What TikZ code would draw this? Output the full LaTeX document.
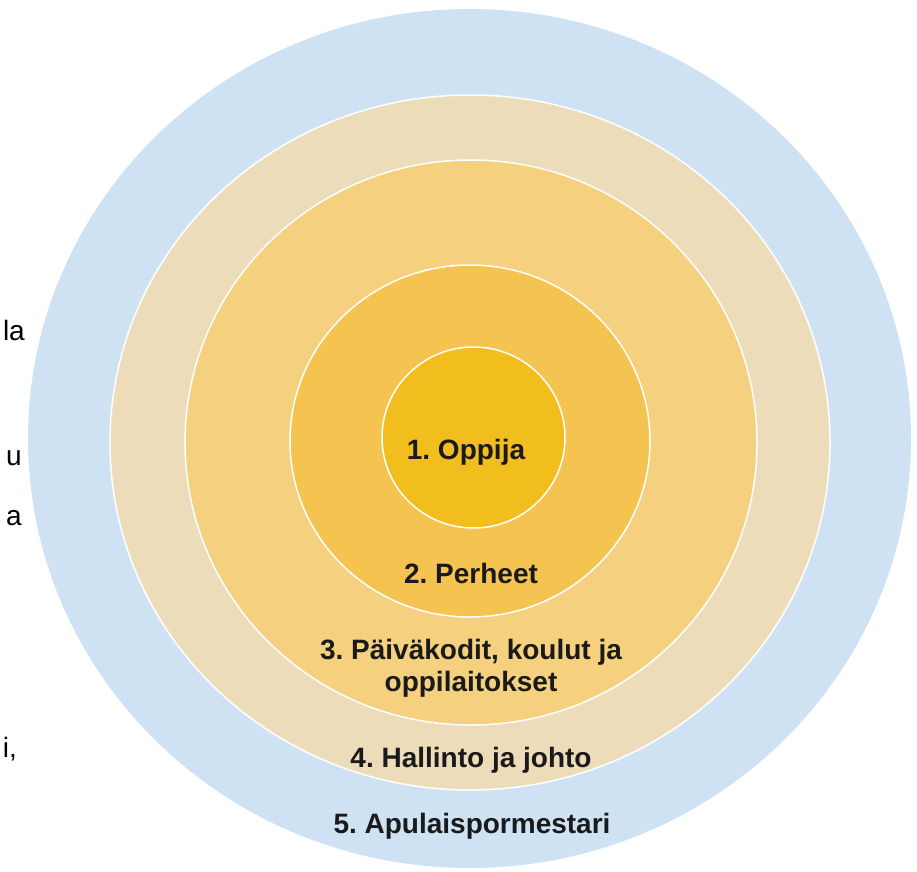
\documentclass[tikz,border=0pt]{standalone}
\usepackage{fontspec}
\setmainfont{Liberation Sans}
\usetikzlibrary{positioning}
\definecolor{ringA}{RGB}{242,190,30}
\definecolor{ringB}{RGB}{245,196,80}
\definecolor{ringC}{RGB}{245,208,126}
\definecolor{ringD}{RGB}{236,220,185}
\definecolor{ringE}{RGB}{207,226,243}
\definecolor{inkText}{RGB}{26,26,26}
\newcommand{\ringfont}{\fontsize{28}{32}\selectfont\bfseries}
\frenchspacing

\begin{document}
\begin{tikzpicture}[x=1pt,y=-1pt,
    ringlabel/.style={inkText, font=\ringfont, inner sep=0pt, align=center},
    cutword/.style={black, font=\fontsize{28}{32}\selectfont, inner sep=0pt, anchor=base east},
    ringline/.style={draw=white, line width=1.5pt}]
      \useasboundingbox (0,0) rectangle (917,871);

      % rings, outside in
      \fill[ringE] (469.5,438.5) ellipse [x radius=441.5pt, y radius=429.5pt];
      \fill[ringD, ringline] (470,442.5) ellipse [x radius=360pt, y radius=347.5pt];
      \fill[ringC, ringline] (471,442.5) ellipse [x radius=286pt, y radius=282.5pt];
      \fill[ringB, ringline] (470,441) ellipse [x radius=180pt, y radius=176pt];
      \fill[ringA, ringline] (473.5,437.5) ellipse [x radius=91.5pt, y radius=90.5pt];

      \node[ringlabel, anchor=base] (oppija) at (466,459) {1. Oppija};
      \node[ringlabel, anchor=base] (perheet) at (471,583) {2. Perheet};
      \node[ringlabel] (koulut) at (471,668) {3. Päiväkodit, koulut ja\\oppilaitokset};
      \node[ringlabel, anchor=base] (hallinto) at (471,767) {4. Hallinto ja johto};
      \node[ringlabel, anchor=base] (apulais) at (472,833) {5. Apulaispormestari};

      % line ends of the text beside the picture
      \node[cutword] (cutla) at (25,340) {la};
      \node[cutword] (cutu) at (22,465) {u};
      \node[cutword] (cuta) at (22,525) {a};
      \node[cutword] (cuti) at (17,757) {i,};
    \end{tikzpicture}
\end{document}
